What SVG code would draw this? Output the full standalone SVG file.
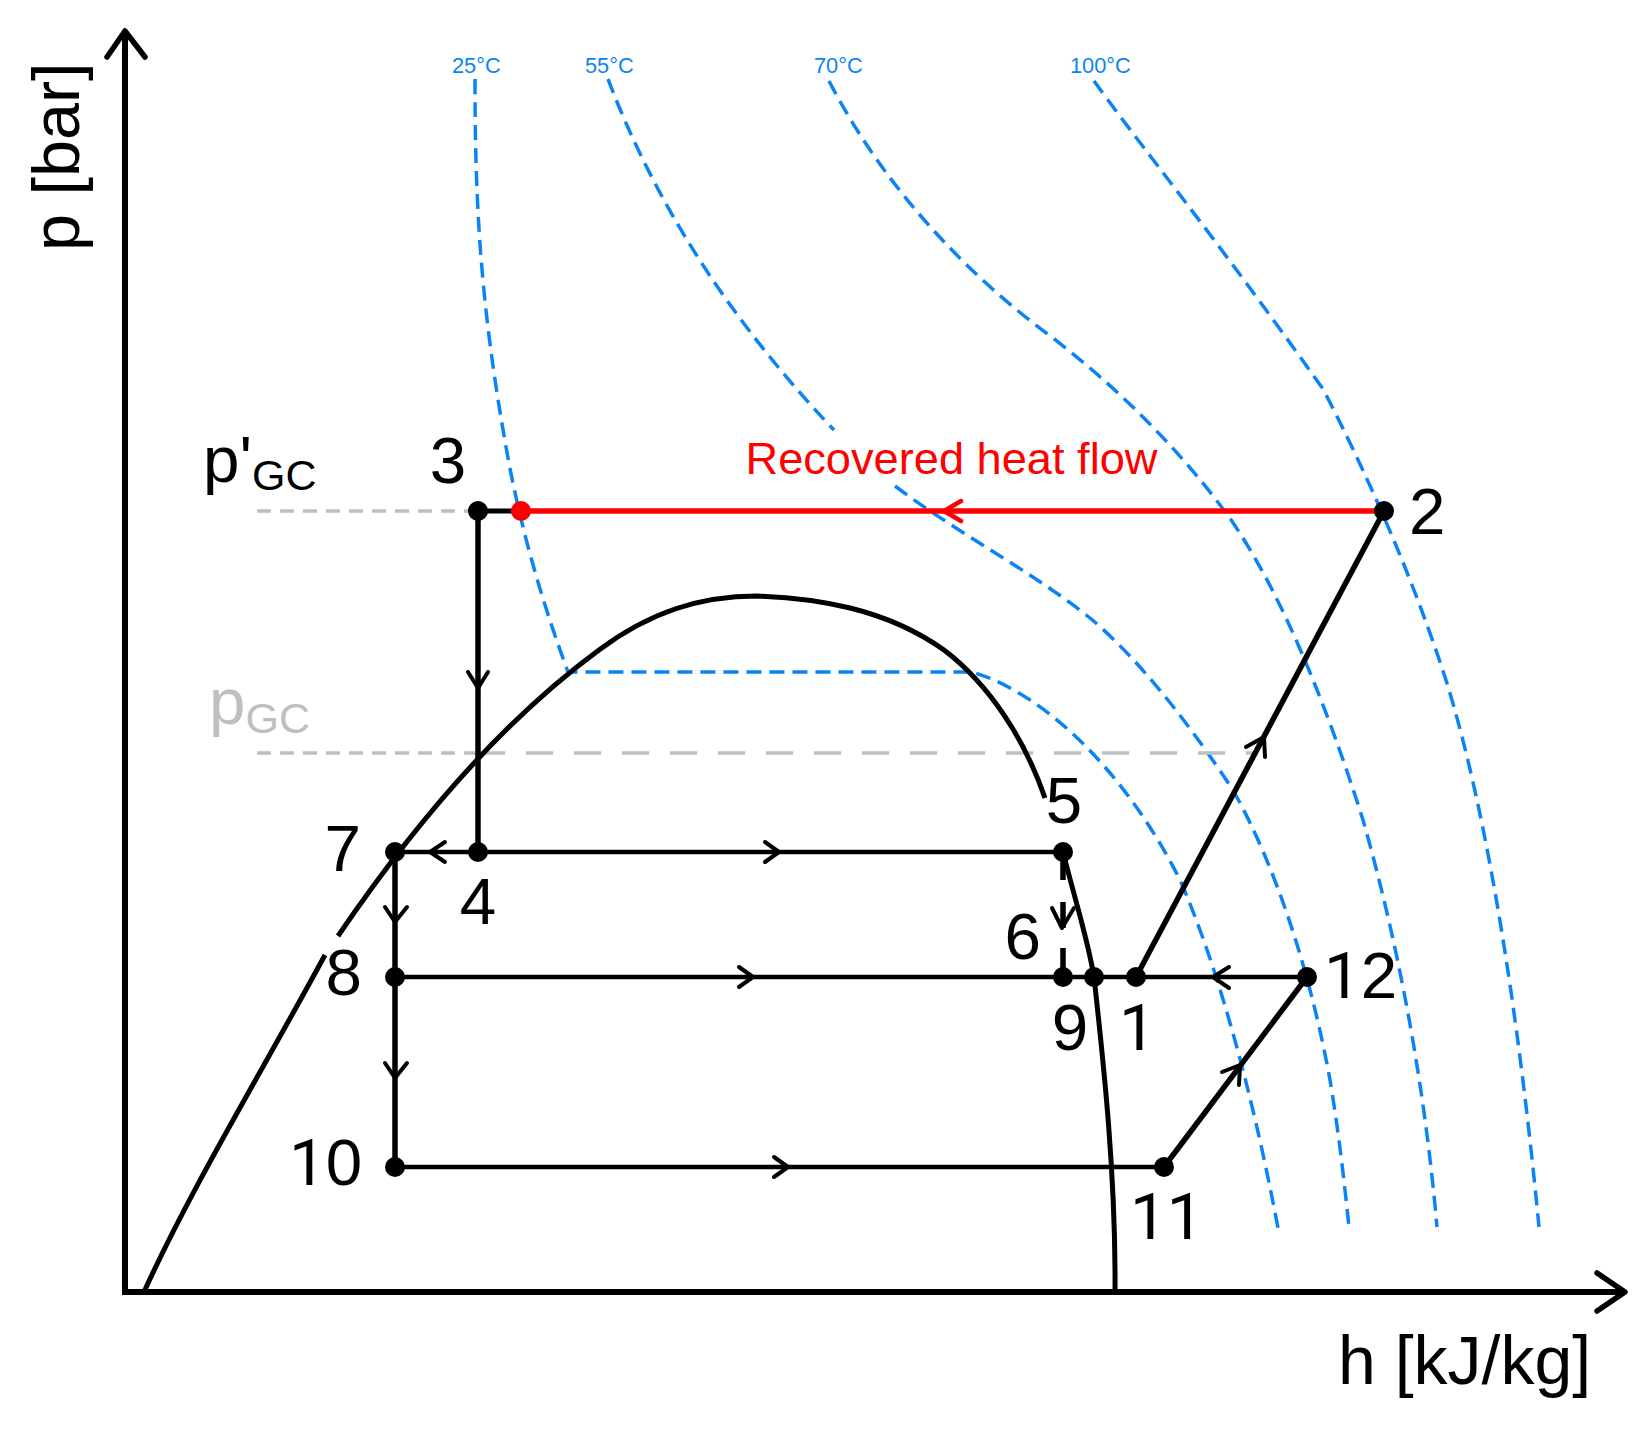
<svg xmlns="http://www.w3.org/2000/svg" width="1647" height="1434" viewBox="0 0 1647 1434">
<style>
text{font-family:"Liberation Sans",Arial,sans-serif}
.n{font-size:65.5px;fill:#000}
.e{text-anchor:end}
.m{text-anchor:middle}
.r{font-family:Roboto,"Liberation Sans",sans-serif}
.t{font-size:21.8px;fill:#0a84f5}
.iso{fill:none;stroke:#0a84f5;stroke-width:3.5;stroke-dasharray:15 8;stroke-linejoin:round}
.k{fill:none;stroke:#000;stroke-width:5.5;stroke-linejoin:round}
.dome{fill:none;stroke:#000;stroke-width:5;stroke-linejoin:round}
.h{fill:none;stroke:#000;stroke-width:4.5}
.a{fill:none;stroke:#000;stroke-width:4;stroke-linecap:round;stroke-linejoin:round}
.ax{fill:none;stroke:#000;stroke-width:6}
.ah{fill:none;stroke:#000;stroke-width:5.5;stroke-linecap:round;stroke-linejoin:round}
.g{fill:none;stroke:#bfbfbf;stroke-width:3.5}
.d{fill:#000}
</style>
<rect width="1647" height="1434" fill="#fff"/>
<g id="isotherms">
<path class="iso" d="M475 79 C475 200 480 300 505 441 C520 530 545 610 568 672 H972 C1050 695 1130 780 1180 880 C1215 960 1250 1080 1278 1228"/>
<path class="iso" d="M608 79 C650 190 720 310 834 430"/>
<path class="iso" d="M895 486 C960 535 1030 570 1090 618 C1140 660 1190 725 1233 790 C1275 865 1310 970 1330 1080 C1340 1140 1345 1190 1349 1227"/>
<path class="iso" d="M829 81 C880 180 960 270 1053 338 C1120 390 1180 450 1229 517 C1280 590 1325 700 1363 820 C1400 950 1425 1090 1437 1227"/>
<path class="iso" d="M1094 81 C1140 145 1210 230 1323 389 C1365 470 1410 570 1445 677 C1490 820 1520 1030 1539 1227"/>
</g>
<g id="isotherm-labels">
<text class="t" x="452" y="73">25°C</text>
<text class="t" x="585" y="73">55°C</text>
<text class="t" x="814" y="73">70°C</text>
<text class="t" x="1070" y="73">100°C</text>
</g>
<g id="pressure-lines">
<path class="g" stroke-dasharray="14 9" d="M257 511H470"/>
<path class="g" stroke-dasharray="14 9" d="M257 753H478"/>
<path class="g" stroke-dasharray="27 21" d="M478 753H1256"/>
</g>
<g id="saturation-dome">
<path class="dome" d="M144 1292 C190 1190 260 1075 325 955"/>
<path class="dome" d="M338 936 C400 845 490 730 599 650 C650 612 700 596 757 596 C815 598 885 608 944 650 C990 685 1025 740 1045 798"/>
<path class="dome" d="M1063 852 C1075 900 1088 940 1094 977 C1102 1050 1116 1170 1115 1292"/>
</g>
<g id="connectors">
<path class="k" d="M478 511V852"/>
<path class="h" d="M395 852H1063"/>
<path class="k" d="M395 852V1167"/>
<path class="h" d="M395 977H1307"/>
<path class="h" d="M395 1167H1164"/>
<path class="k" d="M1136 977 L1384 511"/>
<path class="k" d="M1164 1167 L1307 977"/>
<path class="k" d="M1063 852V880M1063 902V928M1063 948V977"/>
<path d="M478 511H521" stroke="#000" stroke-width="5"/>
<path d="M521 511H1384" stroke="#f00" stroke-width="5.5" fill="none"/>
<path class="a" d="M468 672L478 688L488 672"/>
<path class="a" d="M445 842L430 852L445 862"/>
<path class="a" d="M765 842L779 852L765 862"/>
<path class="a" d="M385 907L395 922L407 907"/>
<path class="a" d="M385 1063L395 1078L407 1063"/>
<path class="a" d="M739 967L753 977L739 987"/>
<path class="a" d="M774 1157L788 1167L774 1177"/>
<path class="a" d="M1229 967L1213 977L1229 988"/>
<path class="a" d="M1222 1072L1240 1065L1239 1085"/>
<path class="a" d="M1246 747L1264 737L1265 757"/>
<path class="a" d="M1052 908L1062 928L1074 908"/>
<path d="M961 501L944 511L961 521" fill="none" stroke="#f00" stroke-width="4.5" stroke-linecap="round"/>
</g>
<g id="axes">
<path class="ax" d="M125 1292V33"/>
<path class="ah" d="M107 57L125 31L145 57"/>
<path class="ax" d="M122 1292H1622"/>
<path class="ah" d="M1597 1273L1625 1292L1597 1311"/>
</g>
<g id="node-1"><circle class="d" cx="1136" cy="977" r="10"/><text class="n r" x="1119" y="1050">1</text></g>
<g id="node-2"><circle class="d" cx="1384" cy="511" r="10"/><text class="n" x="1409" y="534">2</text></g>
<g id="node-3"><circle class="d" cx="478" cy="511" r="10"/><text class="n m" x="448" y="483">3</text></g>
<g id="node-4"><circle class="d" cx="478" cy="852" r="10"/><text class="n m" x="478" y="924">4</text></g>
<g id="node-5"><circle class="d" cx="1063" cy="852" r="10"/><text class="n m" x="1064" y="823">5</text></g>
<g id="node-6"><text class="n e" x="1041" y="959">6</text></g>
<g id="node-7"><circle class="d" cx="395" cy="852" r="10"/><text class="n e" x="361" y="871">7</text></g>
<g id="node-8"><circle class="d" cx="395" cy="977" r="10"/><text class="n e" x="362" y="995">8</text></g>
<g id="node-9"><circle class="d" cx="1063" cy="977" r="10"/><text class="n m" x="1070" y="1050">9</text></g>
<g id="node-sat"><circle class="d" cx="1094" cy="977" r="10"/></g>
<g id="node-10"><circle class="d" cx="395" cy="1167" r="10"/><text class="n" x="289" y="1185"><tspan class="r">1</tspan>0</text></g>
<g id="node-11"><circle class="d" cx="1164" cy="1167" r="10"/><text class="n r" x="1130" y="1239">11</text></g>
<g id="node-12"><circle class="d" cx="1307" cy="977" r="10"/><text class="n" x="1324" y="998"><tspan class="r">1</tspan>2</text></g>
<g id="node-red"><circle fill="#f00" cx="521" cy="511" r="10"/></g>
<g id="labels">
<text x="745.5" y="474" font-size="45.2" fill="#f00">Recovered heat flow</text>
<text class="n" x="203" y="482">p'<tspan font-size="43" dy="8">GC</tspan></text>
<text class="n" x="209" y="724" style="fill:#bfbfbf">p<tspan font-size="43" dy="9">GC</tspan></text>
<text x="1338" y="1384" font-size="68">h [kJ/kg]</text>
<text class="n" transform="translate(79 251) rotate(-90)" style="font-size:66.5px">p [bar]</text>
</g>
</svg>
